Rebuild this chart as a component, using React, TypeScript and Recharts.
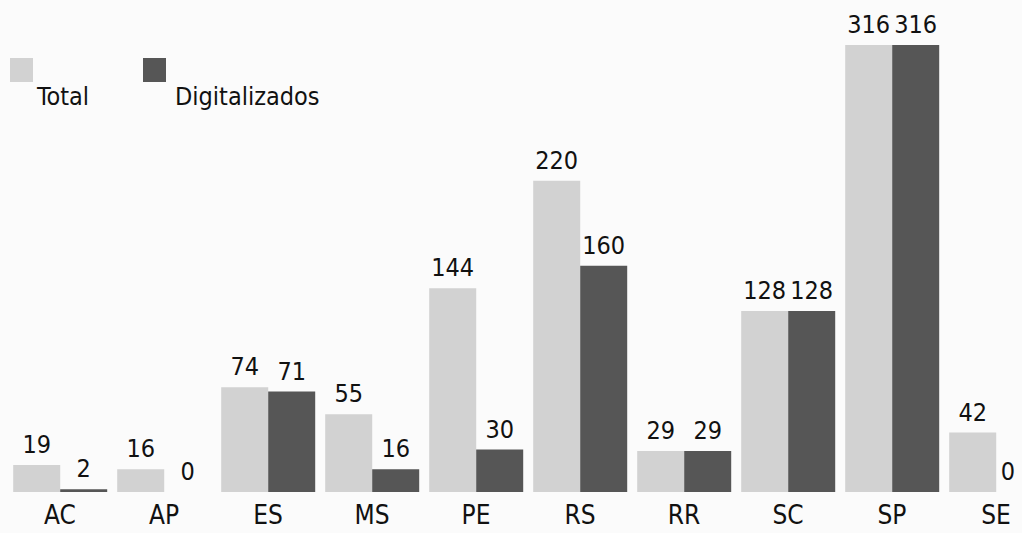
import React from "react";
import { BarChart, Bar, XAxis, YAxis, LabelList } from "recharts";

const categories = ["AC", "AP", "ES", "MS", "PE", "RS", "RR", "SC", "SP", "SE"];
const totalValues = [19, 16, 74, 55, 144, 220, 29, 128, 316, 42];
const digitalValues = [2, 0, 71, 16, 30, 160, 29, 128, 316, 0];
const legendLabels = ["Total", "Digitalizados"];

const data = categories.map((c, i) => ({
  name: c,
  Total: totalValues[i],
  Digitalizados: digitalValues[i],
}));

const FONT = "'DejaVu Sans Condensed', 'DejaVu Sans', sans-serif";
const LIGHT = "#d2d2d2";
const DARK = "#565656";
const MAX_LABEL_X = 1008;

const ValueLabel = (props: any) => {
  const { x, y, width, value } = props;
  const cx = Math.min(Number(x) + Number(width) / 2, MAX_LABEL_X);
  return (
    <text
      x={cx}
      y={Number(y) - 12}
      textAnchor="middle"
      fontFamily={FONT}
      fontSize={25}
      fill="#111"
    >
      {value}
    </text>
  );
};

export default function App() {
  return (
    <div
      style={{
        position: "absolute",
        left: 0,
        top: 0,
        width: 1022,
        height: 533,
        overflow: "hidden",
        background: "#fbfbfb",
      }}
    >
      <div style={{ position: "absolute", left: 0, top: 58, width: 400, height: 60, fontFamily: FONT, fontSize: 25, color: "#111" }}>
        <div style={{ position: "absolute", left: 10, top: 0, width: 23, height: 24, background: LIGHT }} />
        <div style={{ position: "absolute", left: 37, top: 24, lineHeight: "30px" }}>{legendLabels[0]}</div>
        <div style={{ position: "absolute", left: 143, top: 0, width: 23, height: 24, background: DARK }} />
        <div style={{ position: "absolute", left: 175, top: 24, lineHeight: "30px" }}>{legendLabels[1]}</div>
      </div>
      <BarChart
        width={1060}
        height={533}
        data={data}
        margin={{ top: 45, right: 12, left: 8, bottom: 0 }}
        barCategoryGap="5%"
        barGap={0}
        style={{ position: "absolute", left: 0, top: 0 }}
      >
        <XAxis
          dataKey="name"
          axisLine={false}
          tickLine={false}
          height={41}
          tickMargin={8}
          tick={{ fontFamily: FONT, fontSize: 26, fill: "#111" }}
          interval={0}
        />
        <YAxis hide domain={[0, 316]} />
        <Bar dataKey="Total" fill={LIGHT} isAnimationActive={false} minPointSize={0.01}>
          <LabelList dataKey="Total" content={<ValueLabel />} />
        </Bar>
        <Bar dataKey="Digitalizados" fill={DARK} isAnimationActive={false} minPointSize={0.01}>
          <LabelList dataKey="Digitalizados" content={<ValueLabel />} />
        </Bar>
      </BarChart>
    </div>
  );
}
